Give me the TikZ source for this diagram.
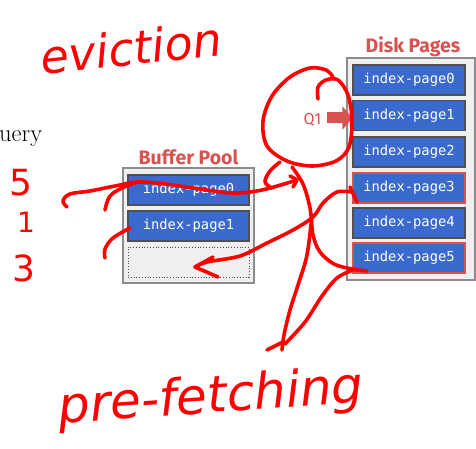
\documentclass[tikz,border=0pt]{standalone}
\usepackage{fontspec}
\usetikzlibrary{arrows.meta}
\newfontfamily\titlefont{Fira Sans}
\newfontfamily\codefont{DejaVu Sans Mono}
\newfontfamily\handfont{DejaVu Sans}
\definecolor{slidered}{RGB}{218,82,80}
\definecolor{pageblue}{RGB}{58,106,206}
\definecolor{boxgray}{RGB}{239,239,239}
\definecolor{framegray}{RGB}{140,140,140}
\definecolor{edgegray}{RGB}{80,80,80}
\definecolor{pen}{RGB}{255,0,0}
\tikzset{
  container/.style={draw=framegray, line width=1.6pt, fill=boxgray, inner sep=0pt},
  pagebox/.style={draw=edgegray, line width=1.2pt, fill=pageblue, text=white,
    minimum height=30pt, inner sep=0pt, font=\codefont\fontsize{13.8}{15}\selectfont},
  hotpage/.style={pagebox, draw=slidered, line width=2.4pt},
  emptyslot/.style={draw=edgegray, dotted, line width=0.8pt, fill=boxgray, minimum height=30pt, inner sep=0pt},
  title/.style={text=slidered, font=\titlefont\bfseries\fontsize{19.5}{22}\selectfont, inner sep=0pt},
  penline/.style={draw=pen, line width=3.6pt, line cap=round, line join=round},
  hand/.style={text=pen, inner sep=0pt, font=\handfont\itshape}
}
\begin{document}
\begin{tikzpicture}[x=1pt,y=-1pt]
\useasboundingbox (0,0) rectangle (476,449);
\fill[white] (0,0) rectangle (476,449);

% partial "Query" text
\node[anchor=base west, inner sep=0pt, font=\fontsize{24.5}{26}\selectfont] (query) at (-1,142) {uery};

% Disk pages
\node[title] (disktitle) at (413,47) {Disk Pages};
\node[container, minimum width=128pt, minimum height=222pt] (disk) at (411,169) {};
\node[pagebox, minimum width=112pt] (dp0) at (409,80) {index-page0};
\node[pagebox, minimum width=112pt] (dp1) at (409,115.5) {index-page1};
\node[pagebox, minimum width=112pt] (dp2) at (409,152) {index-page2};
\node[hotpage, minimum width=112pt] (dp3) at (409,188) {index-page3};
\node[pagebox, minimum width=112pt] (dp4) at (409,223) {index-page4};
\node[hotpage, minimum width=112pt] (dp5) at (409,258) {index-page5};

% Q1
\node[text=slidered, inner sep=0pt, font=\titlefont\fontsize{16}{18}\selectfont] (q1) at (312.5,120) {Q1};
\draw[slidered, line width=11pt, -{Triangle[length=10pt,width=23pt]}, shorten <=5pt]
  (q1.east |- 0,118) -- (dp1.west |- 0,118);

% Buffer pool
\node[title] (pooltitle) at (188.5,157) {Buffer Pool};
\node[container, minimum width=131pt, minimum height=115pt] (pool) at (188.5,225.5) {};
\node[pagebox, minimum width=121pt] (bp0) at (188.5,190) {index-page0};
\node[pagebox, minimum width=121pt] (bp1) at (188.5,226) {index-page1};
\node[emptyslot, minimum width=121pt] (bp2) at (188.5,262) {};

% handwriting text
\node[hand, font=\handfont\itshape\fontsize{46}{50}\selectfont, rotate=6] (evict) at (131,48) {eviction};
\node[hand, font=\handfont\itshape\fontsize{50}{54}\selectfont, rotate=4] (prefetch) at (211,399) {pre-fetching};
\node[hand, font=\handfont\fontsize{36}{40}\selectfont] (n5) at (21,183) {5};
\node[hand, font=\handfont\fontsize{28}{32}\selectfont] (n1) at (26,222) {1};
\node[hand, font=\handfont\fontsize{36}{40}\selectfont] (n3) at (24,268) {3};

% pen strokes
% eviction line through buffer page 0
\draw[penline] plot[smooth, tension=0.6] coordinates {(67,207) (63,201) (70,194) (90,191) (115,186) (138,182) (165,184) (200,189) (233,193) (262,190) (297,180)};
\draw[penline] (290,176) -- (297,180) -- (293,187);
\draw[penline] plot[smooth, tension=0.6] coordinates {(105,210) (110,196) (124,187) (138,182)};
% stroke near buffer page 1
\draw[penline] plot[smooth, tension=0.6] coordinates {(130,228) (113,238) (105,249) (105,258)};
% head
\draw[penline] plot[smooth, tension=0.55] coordinates {(318,99) (318,87) (326,80) (338,80) (348,95) (352,120) (349,147) (336,161) (312,166) (287,161) (267,146) (263,121) (272,96) (290,77) (310,68) (326,70) (333,77)};
% neck / arm
\draw[penline] plot[smooth, tension=0.6] coordinates {(280,162) (270,171) (265,182) (272,188)};
% body to page 5
\draw[penline] plot[smooth, tension=0.55] coordinates {(292,167) (303,184) (310,208) (313,235) (320,252) (334,264) (352,269) (367,271)};
% down line to pre-fetching
\draw[penline] plot[smooth, tension=0.55] coordinates {(312,215) (307,255) (298,285) (290,310) (284,335) (282,350)};
\draw[penline] (267,350) -- (283,342);
\draw[penline] plot[smooth, tension=0.55] coordinates {(353,270) (337,278) (322,296) (305,322) (285,344)};
% page 3 to empty slot
\draw[penline] (350,187) -- (357,202);
\draw[penline] plot[smooth, tension=0.55] coordinates {(352,192) (337,192) (323,203) (313,217) (293,230) (267,243) (240,256) (207,262) (195,267)};
\draw[penline] (213,257) -- (195,267) -- (218,277);
\end{tikzpicture}
\end{document}
